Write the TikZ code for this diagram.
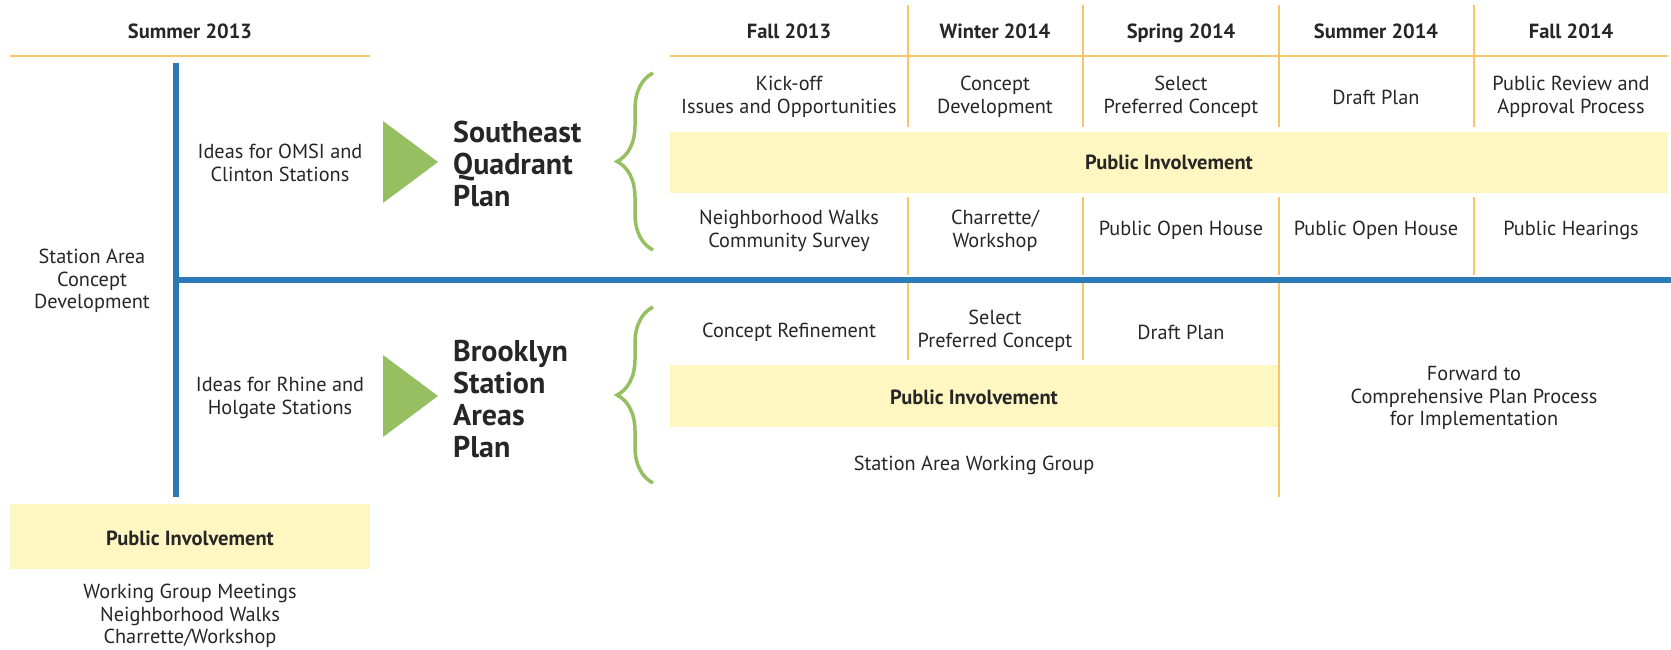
\documentclass[tikz,border=0pt]{standalone}
\usepackage{fontspec}
\setmainfont{PT Sans}
\usetikzlibrary{decorations.pathreplacing}
\definecolor{lineorange}{HTML}{F7C56A}
\definecolor{lineblue}{HTML}{2C7BB6}
\definecolor{bandyellow}{HTML}{FFF7C2}
\definecolor{plangreen}{HTML}{95BF61}
\definecolor{inkgray}{HTML}{262626}
\tikzset{
  every task/.style={
    align=center,
    inner sep=0pt,
    text=inkgray,
    font=\fontsize{20.3}{22.5}\selectfont
  },
  every season/.style={
    anchor=base,
    inner sep=0pt,
    text=inkgray,
    font=\bfseries\fontsize{20.5}{22}\selectfont
  },
  every plan/.style={
    anchor=west,
    align=left,
    inner sep=0pt,
    text=inkgray,
    font=\bfseries\fontsize{30}{32}\selectfont
  },
  every brace/.style={
    draw=plangreen,
    line width=3.5pt,
    decorate,
    decoration={brace, amplitude=36pt}
  }
}

\begin{document}
\begin{tikzpicture}[x=1pt, y=-1pt]
  \useasboundingbox (0,0) rectangle (1671,650);

  % Bands
  \fill[bandyellow] (670,132) rectangle (1668,193);
  \fill[bandyellow] (670,365) rectangle (1279,427);
  \fill[bandyellow] (10,504) rectangle (370,569);

  % Grid lines
  \draw[lineorange, line width=2.5pt] (10,56) -- (370,56);
  \draw[lineorange, line width=2.5pt] (670,56) -- (1668,56);
  \foreach \x in {908,1083,1279,1474} {
    \draw[lineorange, line width=2.5pt] (\x,5) -- (\x,127);
    \draw[lineorange, line width=2.5pt] (\x,197) -- (\x,275);
  }
  \draw[lineorange, line width=2.5pt] (908,283) -- (908,360);
  \draw[lineorange, line width=2.5pt] (1083,283) -- (1083,360);
  \draw[lineorange, line width=2.5pt] (1279,283) -- (1279,497);

  \draw[lineblue, line width=6pt] (176,63) -- (176,497);
  \draw[lineblue, line width=6pt] (173,280) -- (1671,280);

  % Seasons
  \node [every season] (S13) at (190,39) {Summer 2013};
  \node [every season] (F13) at (789,39) {Fall 2013};
  \node [every season] (W14) at (995,39) {Winter 2014};
  \node [every season] (P14) at (1181,39) {Spring 2014};
  \node [every season] (U14) at (1376,39) {Summer 2014};
  \node [every season] (L14) at (1571,39) {Fall 2014};

  % Left column
  \node [every task] (SACD) at (92,281) {Station Area\\Concept\\Development};
  \node [every task] (IOC) at (280,163) {Ideas for OMSI and\\Clinton Stations};
  \node [every task] (IRH) at (280,398) {Ideas for Rhine and\\Holgate Stations};
  \node [every season] (PI0) at (190,545) {Public Involvement};
  \node [every task] (PIL) at (190,616) {Working Group Meetings\\Neighborhood Walks\\Charrette/Workshop};

  % Plans
  \fill[plangreen] (383,121) -- (438,162) -- (383,203) -- cycle;
  \fill[plangreen] (383,355) -- (438,396) -- (383,437) -- cycle;
  \node [every plan] (SQP) at (453,164) {Southeast\\Quadrant\\Plan};
  \node [every plan] (BSAP) at (453,399) {Brooklyn\\Station\\Areas\\Plan};
  \draw[every brace] (653,250) -- (653,73);
  \draw[every brace] (653,483) -- (653,307);

  % Southeast Quadrant rows
  \node [every task] (A1) at (789,97) {Kick-off\\Issues and Opportunities};
  \node [every task] (A2) at (995,97) {Concept\\Development};
  \node [every task] (A3) at (1181,97) {Select\\Preferred Concept};
  \node [every task] (A4) at (1376,97) {Draft Plan};
  \node [every task] (A5) at (1571,97) {Public Review and\\Approval Process};
  \node [every season] (PI1) at (1169,170) {Public Involvement};
  \node [every task] (B1) at (789,231) {Neighborhood Walks\\Community Survey};
  \node [every task] (B2) at (995,231) {Charrette/\\Workshop};
  \node [every task] (B3) at (1181,230) {Public Open House};
  \node [every task] (B4) at (1376,230) {Public Open House};
  \node [every task] (B5) at (1571,230) {Public Hearings};

  % Brooklyn rows
  \node [every task] (C1) at (789,332) {Concept Refinement};
  \node [every task] (C2) at (995,331) {Select\\Preferred Concept};
  \node [every task] (C3) at (1181,332) {Draft Plan};
  \node [every season] (PI2) at (974,404) {Public Involvement};
  \node [every task] (C4) at (974,465) {Station Area Working Group};
  \node [every task] (FWD) at (1474,398) {Forward to\\Comprehensive Plan Process\\for Implementation};
\end{tikzpicture}
\end{document}
